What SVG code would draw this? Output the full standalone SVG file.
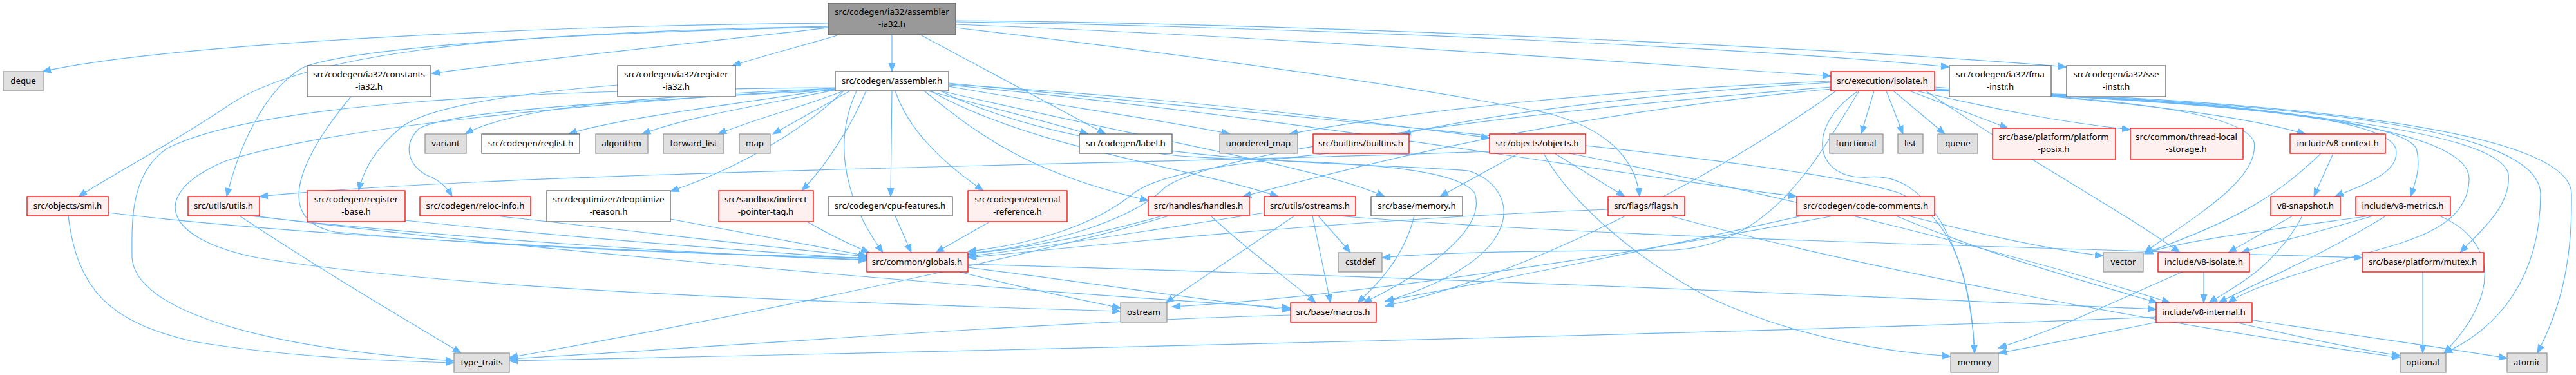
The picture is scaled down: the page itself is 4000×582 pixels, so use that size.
<svg xmlns="http://www.w3.org/2000/svg" width="4000" height="582" viewBox="0 0 4000 582">
<style>
text{font-family:"Noto Sans","Liberation Sans",sans-serif;font-size:13.3px;text-anchor:middle;fill:#000}
.w{fill:#fff;stroke:#666;stroke-width:1.3}
.r{fill:#fff0f0;stroke:#f00;stroke-width:1.3}
.g{fill:#e0e0e0;stroke:#999;stroke-width:1.3}
.t{fill:#999;stroke:#666;stroke-width:1.3}
#edges path{fill:none;stroke:#63b8ff;stroke-width:1.2;marker-end:url(#ah)}
</style>
<defs>
<marker id="ah" markerWidth="14" markerHeight="12" refX="13" refY="6" orient="auto" markerUnits="userSpaceOnUse"><path d="M0,1 L13,6 L0,11 z" fill="#63b8ff" stroke="#63b8ff" stroke-width="1"/></marker>
</defs>
<rect width="4000" height="582" fill="#fff"/>
<g id="edges">
<path d="M1286,36 C800,40 250,70 66,111"/>
<path d="M1286,43 C1100,65 850,90 670,114"/>
<path d="M1300,55 C1250,70 1190,85 1137,102"/>
<path d="M1385,54 L1385,111"/>
<path d="M1484,38 C1950,55 2500,95 2843,118"/>
<path d="M1484,34 C2000,42 2700,72 3027,104"/>
<path d="M1484,32 C2100,38 2900,78 3209,104"/>
<path d="M1431,55 L1717,208"/>
<path d="M1286,41 C750,50 480,85 360,160 C280,215 190,262 122,305"/>
<path d="M1286,42 C800,52 530,80 470,105 C410,140 370,230 352,305"/>
<path d="M1484,43 C1800,80 2150,125 2400,175 C2500,200 2540,250 2546,305"/>
<path d="M545,150 C470,240 420,340 520,360 C800,385 1100,395 1346,400"/>
<path d="M959,132 C800,145 660,165 620,200 C585,230 565,260 557,296"/>
<path d="M629,342 C900,370 1200,392 1346,402"/>
<path d="M168,330 C500,370 1000,390 1346,403"/>
<path d="M106,335 C120,450 170,500 300,530 C450,555 600,560 705,563"/>
<path d="M387,335 C700,370 1100,395 1346,404"/>
<path d="M395,335 C700,375 1400,440 2004,478"/>
<path d="M372,335 C500,420 620,490 716,548"/>
<path d="M770,335 C1000,360 1200,385 1346,398"/>
<path d="M1041,340 C1150,360 1250,380 1346,397"/>
<path d="M1253,344 C1290,365 1320,380 1350,392"/>
<path d="M1390,335 L1415,392"/>
<path d="M1537,344 L1453,392"/>
<path d="M1805,335 C1700,365 1600,385 1503,394"/>
<path d="M1880,335 C1950,400 2010,440 2043,470"/>
<path d="M1815,335 C1600,400 1100,500 791,555"/>
<path d="M2010,335 L1810,470"/>
<path d="M2038,335 L2066,470"/>
<path d="M2047,335 L2097,392"/>
<path d="M1965,330 C1800,355 1650,380 1503,398"/>
<path d="M2078,335 C2500,370 3200,385 3668,400"/>
<path d="M2196,335 C2180,400 2140,440 2108,470"/>
<path d="M2358,238 L2236,305"/>
<path d="M2313,235 C1800,255 800,265 403,305"/>
<path d="M2414,238 L2523,305"/>
<path d="M2397,238 C2430,300 2520,390 2650,460 C2800,530 2950,548 3029,553"/>
<path d="M2437,238 C2800,310 3150,400 3370,470"/>
<path d="M2063,238 C1900,255 1800,270 1760,300 C1700,350 1600,380 1503,390"/>
<path d="M2843,135 C2400,170 1900,230 1810,290 C1750,350 1600,385 1503,393"/>
<path d="M2497,325 C2100,340 1700,380 1503,400"/>
<path d="M2593,335 C2900,420 3400,510 3727,555"/>
<path d="M2798,335 C2600,380 2300,440 2151,467"/>
<path d="M2847,335 C2500,400 2100,460 1820,476"/>
<path d="M2944,335 C3100,400 3250,440 3350,470"/>
<path d="M2963,335 C3100,370 3200,390 3266,397"/>
<path d="M2843,126 C2500,140 2200,170 2002,208"/>
<path d="M2843,128 C2550,145 2300,180 2178,208"/>
<path d="M2910,141 L2890,208"/>
<path d="M2929,141 L2955,208"/>
<path d="M2940,141 L3020,208"/>
<path d="M2965,141 L3118,199"/>
<path d="M2975,141 C3100,170 3200,190 3308,201"/>
<path d="M3004,135 C3200,150 3450,170 3580,208"/>
<path d="M3004,139 C3300,150 3700,170 3720,230 C3730,270 3660,290 3626,305"/>
<path d="M3004,140 C3400,155 3720,180 3752,230 C3760,260 3750,285 3743,305"/>
<path d="M3004,141 C3600,160 3840,210 3834,280 C3830,370 3700,380 3600,415 C3520,440 3480,455 3460,470"/>
<path d="M3004,140 C3500,160 3880,200 3895,270 C3900,320 3850,360 3820,392"/>
<path d="M3004,140 C3600,160 3940,200 3945,300 C3945,430 3880,510 3795,548"/>
<path d="M3004,139 C3700,160 3990,220 3993,300 C3995,420 3970,490 3940,548"/>
<path d="M3004,138 C3250,150 3480,170 3500,220 C3510,280 3400,340 3330,392"/>
<path d="M3604,238 C3540,300 3480,340 3330,393"/>
<path d="M3623,238 L3593,305"/>
<path d="M3560,335 L3460,392"/>
<path d="M3575,335 C3530,420 3460,450 3430,470"/>
<path d="M3685,335 C3600,360 3520,380 3480,392"/>
<path d="M3680,335 C3500,360 3380,375 3330,394"/>
<path d="M3705,335 C3600,400 3500,440 3445,470"/>
<path d="M3788,335 C3870,370 3890,450 3795,548"/>
<path d="M3422,422 L3422,470"/>
<path d="M3389,422 C3300,460 3200,510 3103,540"/>
<path d="M3470,500 C3600,530 3680,545 3727,552"/>
<path d="M3493,496 C3650,520 3800,540 3893,556"/>
<path d="M3355,499 C3250,520 3150,540 3103,548"/>
<path d="M3348,492 C2800,515 1500,545 791,560"/>
<path d="M3762,422 L3762,548"/>
<path d="M2990,141 C3150,250 3300,330 3385,392"/>
<path d="M2884,142 C2800,200 2820,280 2900,275 C3000,265 3060,400 3066,548"/>
<path d="M2851,141 C2700,250 2400,420 2151,475"/>
<path d="M2886,142 C2820,250 2750,380 2600,388 C2400,390 2250,390 2146,400"/>
<path d="M2843,138 C2400,180 2100,260 1930,305"/>
<path d="M1297,137 C1000,150 800,165 722,208"/>
<path d="M1297,138 C1150,160 950,185 883,208"/>
<path d="M1300,139 C1200,160 1070,180 997,208"/>
<path d="M1310,141 C1250,165 1170,185 1115,208"/>
<path d="M1320,141 L1200,208"/>
<path d="M1440,141 C1550,170 1630,190 1690,208"/>
<path d="M1473,134 C1650,165 1800,185 1910,208"/>
<path d="M1473,131 C1800,150 2100,185 2313,214"/>
<path d="M1473,129 C2200,200 2800,250 2950,300 C3040,340 3062,450 3066,548"/>
<path d="M1297,138 C900,160 500,200 350,250 C230,300 250,370 400,400 C700,450 1300,470 1740,483"/>
<path d="M1297,136 C800,140 400,160 260,230 C200,270 205,350 205,400 C210,480 400,540 705,560"/>
<path d="M1460,141 C1700,260 2100,250 2280,265 C2360,290 2380,400 2151,468"/>
<path d="M1460,141 C1800,220 2050,260 2150,305"/>
<path d="M1473,132 C2000,180 2500,270 2790,305"/>
<path d="M1385,141 L1383,305"/>
<path d="M1390,141 C1410,200 1460,250 1527,296"/>
<path d="M1297,140 C1000,155 700,170 650,200 C620,230 640,265 670,275 C685,282 695,292 702,305"/>
<path d="M1310,141 C1250,200 1150,260 1041,297"/>
<path d="M1345,141 C1320,200 1280,260 1245,296"/>
<path d="M1435,141 C1520,210 1600,270 1783,311"/>
<path d="M1445,141 C1600,230 1850,260 1985,305"/>
<path d="M1330,141 C1280,250 1340,350 1371,392"/>
<path d="M1799,238 C1900,255 2250,240 2290,300 C2310,360 2200,430 2117,470"/>
<path d="M1503,415 C1700,440 1900,470 2004,481"/>
<path d="M1503,410 C2200,430 2900,460 3348,480"/>
<path d="M1490,422 C1600,450 1700,470 1740,478"/>
<path d="M2004,489 C1600,500 1100,540 791,557"/>
</g>
<g id="root"><rect class="t" x="1286" y="5" width="198" height="49"/><text x="1385" y="23">src/codegen/ia32/assembler</text><text x="1385" y="42">-ia32.h</text></g>
<g id="deque"><rect class="g" x="5" y="111" width="62" height="30"/><text x="36" y="130">deque</text></g>
<g id="constants"><rect class="w" x="477" y="102" width="192" height="48"/><text x="573" y="120">src/codegen/ia32/constants</text><text x="573" y="139">-ia32.h</text></g>
<g id="register_ia32"><rect class="w" x="959" y="102" width="183" height="48"/><text x="1050" y="120">src/codegen/ia32/register</text><text x="1050" y="139">-ia32.h</text></g>
<g id="assembler"><rect class="w" x="1297" y="111" width="176" height="30"/><text x="1385" y="130">src/codegen/assembler.h</text></g>
<g id="isolate"><rect class="r" x="2843" y="111" width="161" height="30"/><text x="2923" y="130">src/execution/isolate.h</text></g>
<g id="fma"><rect class="w" x="3027" y="102" width="158" height="48"/><text x="3106" y="120">src/codegen/ia32/fma</text><text x="3106" y="139">-instr.h</text></g>
<g id="sse"><rect class="w" x="3209" y="102" width="154" height="48"/><text x="3286" y="120">src/codegen/ia32/sse</text><text x="3286" y="139">-instr.h</text></g>
<g id="variant"><rect class="g" x="660" y="208" width="64" height="30"/><text x="692" y="227">variant</text></g>
<g id="reglist"><rect class="w" x="748" y="208" width="152" height="30"/><text x="824" y="227">src/codegen/reglist.h</text></g>
<g id="algorithm"><rect class="g" x="925" y="208" width="81" height="30"/><text x="965" y="227">algorithm</text></g>
<g id="forward_list"><rect class="g" x="1030" y="208" width="94" height="30"/><text x="1077" y="227">forward_list</text></g>
<g id="map"><rect class="g" x="1148" y="208" width="48" height="30"/><text x="1172" y="227">map</text></g>
<g id="label"><rect class="w" x="1676" y="208" width="144" height="30"/><text x="1748" y="227">src/codegen/label.h</text></g>
<g id="unordered_map"><rect class="g" x="1894" y="208" width="121" height="30"/><text x="1954" y="227">unordered_map</text></g>
<g id="builtins"><rect class="r" x="2039" y="208" width="149" height="30"/><text x="2113" y="227">src/builtins/builtins.h</text></g>
<g id="objects"><rect class="r" x="2313" y="208" width="149" height="30"/><text x="2387" y="227">src/objects/objects.h</text></g>
<g id="functional"><rect class="g" x="2841" y="208" width="83" height="30"/><text x="2882" y="227">functional</text></g>
<g id="list"><rect class="g" x="2947" y="208" width="39" height="30"/><text x="2966" y="227">list</text></g>
<g id="queue"><rect class="g" x="3009" y="208" width="62" height="30"/><text x="3040" y="227">queue</text></g>
<g id="platform_posix"><rect class="r" x="3094" y="199" width="191" height="48"/><text x="3189" y="217">src/base/platform/platform</text><text x="3189" y="236">-posix.h</text></g>
<g id="tls"><rect class="r" x="3308" y="199" width="175" height="48"/><text x="3395" y="217">src/common/thread-local</text><text x="3395" y="236">-storage.h</text></g>
<g id="v8context"><rect class="r" x="3556" y="208" width="148" height="30"/><text x="3630" y="227">include/v8-context.h</text></g>
<g id="smi"><rect class="r" x="42" y="305" width="126" height="30"/><text x="105" y="324">src/objects/smi.h</text></g>
<g id="utils"><rect class="r" x="292" y="305" width="111" height="30"/><text x="347" y="324">src/utils/utils.h</text></g>
<g id="register_base"><rect class="r" x="477" y="296" width="152" height="48"/><text x="553" y="314">src/codegen/register</text><text x="553" y="333">-base.h</text></g>
<g id="reloc_info"><rect class="r" x="652" y="305" width="172" height="30"/><text x="738" y="324">src/codegen/reloc-info.h</text></g>
<g id="deopt"><rect class="w" x="849" y="296" width="192" height="48"/><text x="945" y="314">src/deoptimizer/deoptimize</text><text x="945" y="333">-reason.h</text></g>
<g id="indirect"><rect class="r" x="1116" y="296" width="147" height="48"/><text x="1189" y="314">src/sandbox/indirect</text><text x="1189" y="333">-pointer-tag.h</text></g>
<g id="cpu"><rect class="w" x="1286" y="305" width="193" height="30"/><text x="1382" y="324">src/codegen/cpu-features.h</text></g>
<g id="extref"><rect class="r" x="1503" y="296" width="154" height="48"/><text x="1580" y="314">src/codegen/external</text><text x="1580" y="333">-reference.h</text></g>
<g id="handles"><rect class="r" x="1783" y="305" width="157" height="30"/><text x="1861" y="324">src/handles/handles.h</text></g>
<g id="ostreams"><rect class="r" x="1963" y="305" width="142" height="30"/><text x="2034" y="324">src/utils/ostreams.h</text></g>
<g id="basememory"><rect class="w" x="2129" y="305" width="142" height="30"/><text x="2200" y="324">src/base/memory.h</text></g>
<g id="flags"><rect class="r" x="2497" y="305" width="119" height="30"/><text x="2556" y="324">src/flags/flags.h</text></g>
<g id="codecomments"><rect class="r" x="2790" y="305" width="214" height="30"/><text x="2897" y="324">src/codegen/code-comments.h</text></g>
<g id="v8snapshot"><rect class="r" x="3526" y="305" width="108" height="30"/><text x="3580" y="324">v8-snapshot.h</text></g>
<g id="v8metrics"><rect class="r" x="3658" y="305" width="147" height="30"/><text x="3731" y="324">include/v8-metrics.h</text></g>
<g id="globals"><rect class="r" x="1346" y="392" width="157" height="30"/><text x="1424" y="411">src/common/globals.h</text></g>
<g id="cstddef"><rect class="g" x="2078" y="392" width="68" height="30"/><text x="2112" y="411">cstddef</text></g>
<g id="vector"><rect class="g" x="3266" y="392" width="62" height="30"/><text x="3297" y="411">vector</text></g>
<g id="v8isolate"><rect class="r" x="3351" y="392" width="142" height="30"/><text x="3422" y="411">include/v8-isolate.h</text></g>
<g id="mutex"><rect class="r" x="3668" y="392" width="189" height="30"/><text x="3762" y="411">src/base/platform/mutex.h</text></g>
<g id="ostream"><rect class="g" x="1740" y="470" width="72" height="30"/><text x="1776" y="489">ostream</text></g>
<g id="macros"><rect class="r" x="2004" y="470" width="133" height="30"/><text x="2070" y="489">src/base/macros.h</text></g>
<g id="v8internal"><rect class="r" x="3348" y="470" width="149" height="30"/><text x="3422" y="489">include/v8-internal.h</text></g>
<g id="type_traits"><rect class="g" x="705" y="548" width="86" height="30"/><text x="748" y="567">type_traits</text></g>
<g id="memory"><rect class="g" x="3029" y="548" width="74" height="30"/><text x="3066" y="567">memory</text></g>
<g id="optional"><rect class="g" x="3727" y="548" width="71" height="30"/><text x="3762" y="567">optional</text></g>
<g id="atomic"><rect class="g" x="3893" y="548" width="62" height="30"/><text x="3924" y="567">atomic</text></g>
</svg>
